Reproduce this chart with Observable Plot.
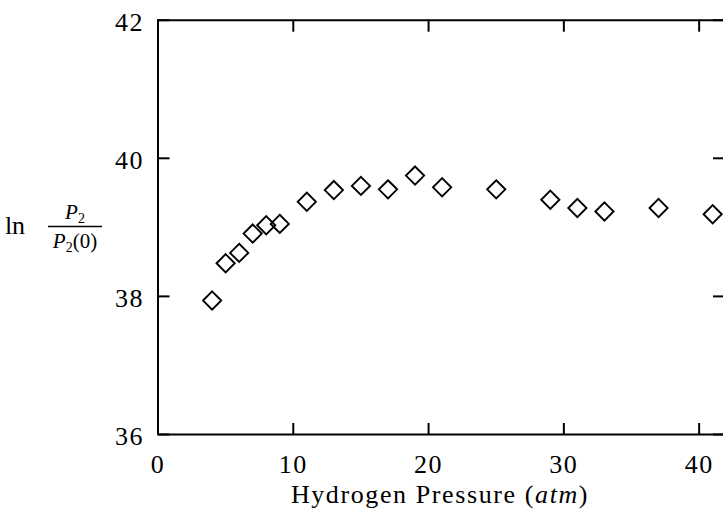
<!DOCTYPE html>
<html><head><meta charset="utf-8">
<script src="https://cdn.jsdelivr.net/npm/d3@7"></script>
<script src="https://cdn.jsdelivr.net/npm/@observablehq/plot@0.6"></script>
<style>
html,body{margin:0;padding:0;background:#fff;overflow:hidden}
#chart svg{display:block}
</style></head><body><div id="chart"></div>
<script>
const pressure = [4, 5, 6, 7, 8, 9, 11, 13, 15, 17, 19, 21, 25, 29, 31, 33, 37, 41];
const lnRatio = [37.94, 38.48, 38.63, 38.91, 39.03, 39.05, 39.37, 39.54, 39.60, 39.55, 39.75, 39.58, 39.55, 39.40, 39.28, 39.23, 39.28, 39.19];
const xTicks = [0, 10, 20, 30, 40];
const yTicks = [36, 38, 40, 42];
const xDomain = [0, 41.8];
const yDomain = [36, 42];
const xLabelParts = [["Hydrogen Pressure (", false], ["atm", true], [")", false]];

const data = pressure.map((p, i) => ({p, v: lnRatio[i]}));
const font = "'Liberation Serif', 'DejaVu Serif', serif";

const W = 723, H = 515, mL = 157.5, mR = 0, mT = 19.7, mB = 81;
const innerW = W - mL - mR, innerH = H - mT - mB;

const chart = Plot.plot({
  width: W,
  height: H,
  marginLeft: mL,
  marginRight: mR,
  marginTop: mT,
  marginBottom: mB,
  style: {fontFamily: font, fontSize: "26px", color: "#000", background: "#fff"},
  x: {domain: xDomain, axis: null},
  y: {domain: yDomain, axis: null},
  marks: [
    Plot.ruleX([xDomain[0]], {stroke: "#000", strokeWidth: 2}),
    Plot.ruleY(yDomain, {stroke: "#000", strokeWidth: 2}),
    // inward ticks: bottom, top, left, right
    Plot.ruleX(xTicks, {stroke: "#000", strokeWidth: 2, insetTop: innerH - 11}),
    Plot.ruleX(xTicks, {stroke: "#000", strokeWidth: 2, insetBottom: innerH - 12}),
    Plot.ruleY(yTicks, {stroke: "#000", strokeWidth: 2, insetRight: innerW - 12}),
    Plot.ruleY(yTicks, {stroke: "#000", strokeWidth: 2, insetLeft: innerW - 10}),
    // tick labels
    Plot.text(xTicks, {x: d => d, y: yDomain[0], dy: 30, text: d => String(d), fill: "#000", fontSize: 26}),
    Plot.text(yTicks, {x: xDomain[0], y: d => d, dx: -14, dy: 2, text: d => String(d), textAnchor: "end", fill: "#000", fontSize: 26}),
    Plot.dot(data, {x: "p", y: "v", symbol: "diamond2", r: 8.2, stroke: "#000", strokeWidth: 1.9, fill: "none"})
  ]
});
document.getElementById("chart").appendChild(chart);

const svg = d3.select(chart);
svg.selectAll("text")
  .attr("fill", "#000")
  .style("font-family", font)
  .style("letter-spacing", "1.5px");
// x label
const xl = svg.append("text")
  .attr("x", 440).attr("y", 503)
  .attr("text-anchor", "middle")
  .style("font-family", font).style("font-size", "26px").style("letter-spacing", "1.6px").attr("fill", "#000");
xLabelParts.forEach(([t, it]) => xl.append("tspan").text(t).style("font-style", it ? "italic" : "normal"));

// y label: ln P2 / P2(0)
const g = svg.append("g").style("font-family", font).attr("fill", "#000");
g.append("text").attr("x", 15).attr("y", 234).style("font-size", "26px").text("ln");
const num = g.append("text").attr("x", 75).attr("y", 219).attr("text-anchor", "middle").style("font-size", "21px");
num.append("tspan").style("font-style", "italic").text("P");
num.append("tspan").attr("dy", 4).style("font-size", "14px").text("2");
g.append("line").attr("x1", 48).attr("x2", 102).attr("y1", 226.5).attr("y2", 226.5).attr("stroke", "#000").attr("stroke-width", 1.4);
const den = g.append("text").attr("x", 75).attr("y", 248).attr("text-anchor", "middle").style("font-size", "21px");
den.append("tspan").style("font-style", "italic").text("P");
den.append("tspan").attr("dy", 4).style("font-size", "14px").text("2");
den.append("tspan").attr("dy", -4).text("(0)");
</script>
</body></html>
